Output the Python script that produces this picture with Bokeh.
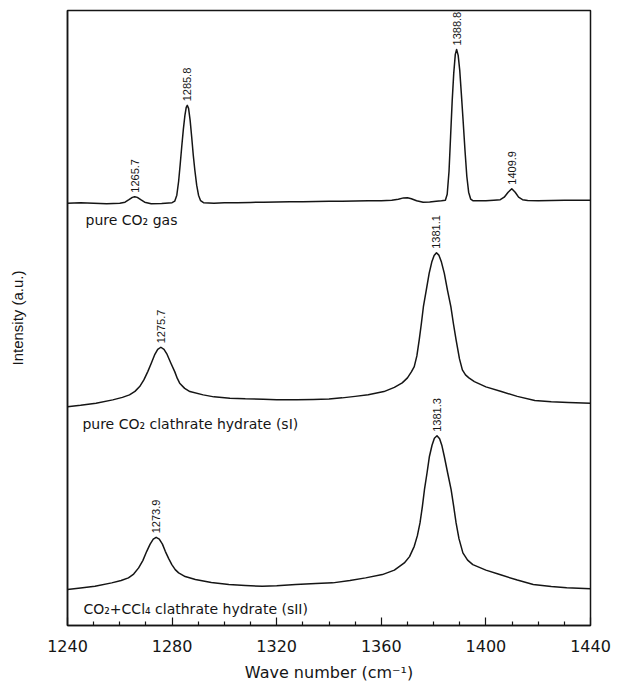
import math
from bokeh.plotting import figure
from bokeh.models import Range1d, FixedTicker, ColumnDataSource
from bokeh.core.properties import value
from bokeh.embed import file_html
from bokeh.resources import INLINE

# ---- data: (wave number cm^-1, intensity a.u.) ----
gas_pts = [
    (1240, 423), (1245, 423.5), (1250, 423), (1255, 422.5), (1260, 423), (1262, 424), (1263.5, 426.5),
    (1264.8, 428.8), (1265.7, 429.5), (1266.7, 428.8), (1268, 426.5), (1269.5, 424), (1272, 422.5),
    (1276, 422.8), (1280, 423.5),
    (1281.0, 425), (1281.8, 431), (1282.5, 445), (1283.1, 462), (1283.7, 480), (1284.3, 497),
    (1284.9, 511), (1285.4, 519), (1285.8, 521), (1286.3, 518), (1286.9, 506), (1287.5, 489),
    (1288.1, 471), (1288.7, 456), (1289.4, 441), (1290.1, 431), (1290.9, 425.5), (1292, 423.5),
    (1296, 423), (1300, 423.5), (1305, 423.5), (1310, 423.8), (1315, 424), (1320, 424.3), (1325, 424.5),
    (1330, 424.5), (1335, 424.8), (1340, 425), (1345, 425), (1350, 425.2), (1355, 425.5), (1360, 425.5),
    (1364, 426), (1366.5, 427), (1368.5, 428.3), (1370, 428.5), (1371.5, 427.5), (1373.5, 425.5),
    (1376, 424), (1378.5, 424.2), (1381, 425), (1383, 425.5),
    (1384.5, 426), (1385.2, 432), (1385.9, 455), (1386.5, 490), (1387.1, 525), (1387.7, 553),
    (1388.3, 572), (1388.8, 577), (1389.4, 571), (1390.0, 556), (1390.6, 533), (1391.3, 505),
    (1392.0, 476), (1392.7, 450), (1393.4, 434), (1394.2, 427), (1395, 425.5),
    (1397, 425.5), (1400, 425.5), (1403, 426), (1405.5, 426.5), (1407, 429), (1408.5, 434),
    (1409.9, 437.5), (1411.2, 434), (1412.5, 429), (1414, 426.5), (1416, 425.8), (1420, 425.5),
    (1425, 425.8), (1430, 426), (1435, 426), (1440, 426),
]

sI_pts = [
    (1240, 219), (1245, 220.5), (1250.9, 222.7), (1257.3, 226), (1261, 228.5), (1263.7, 231),
    (1265.8, 234.5), (1267.6, 239.3), (1269.2, 246), (1270.7, 254.3), (1272.0, 262.5), (1273.3, 271),
    (1274.5, 276.5), (1275.7, 278.7), (1276.9, 276.5), (1278.1, 271.5), (1279.5, 263), (1281.0, 254.3),
    (1282.0, 247.5), (1282.9, 242.7), (1284.8, 237.5), (1286.8, 234.3), (1291.9, 231), (1296, 229),
    (1302.1, 227.7), (1308, 227), (1314.9, 226.7), (1320, 226.2), (1327.7, 226), (1334, 226.3),
    (1340, 226.8), (1345, 228), (1350, 229.5), (1355, 231.2), (1361, 234.3), (1365, 238.5),
    (1368, 243), (1370, 248), (1371.5, 254), (1372.6, 259.3), (1373.6, 270), (1374.5, 286),
    (1375.3, 302), (1376.1, 319.3), (1377.2, 336), (1378.3, 352.7), (1379.3, 364), (1380.2, 370.5),
    (1381.1, 373.3), (1382.0, 371), (1383.0, 364), (1384.1, 352.7), (1385.3, 336), (1386.6, 319.3),
    (1387.6, 302), (1388.6, 286), (1389.9, 267), (1391.0, 256), (1392.2, 251), (1393.5, 248),
    (1395.6, 244.3), (1400, 239), (1405.9, 234.3), (1412, 229.5), (1418.7, 225.3), (1425, 224),
    (1431.5, 223.3), (1440, 222.7),
]

sII_pts = [
    (1240, 36), (1245, 37.5), (1250.5, 39.3), (1256.9, 42.7), (1260.5, 45), (1263.3, 47.7),
    (1265.3, 51.5), (1267.2, 57.7), (1268.8, 65), (1270.3, 74.3), (1271.6, 81.5), (1272.8, 86.5),
    (1273.9, 88.3), (1275.1, 86.5), (1276.3, 81.5), (1277.4, 74.3), (1278.7, 67), (1279.9, 61),
    (1281.2, 56), (1282.5, 52.7), (1285, 49), (1288.9, 46), (1295, 43), (1301.7, 41), (1308, 40),
    (1314.5, 39.3), (1320, 39.8), (1327.3, 41), (1335, 42), (1341.4, 42.7), (1348, 45), (1354, 47.7),
    (1360.4, 51), (1365, 55.5), (1368.8, 62.7), (1370.8, 69), (1372.6, 79.3), (1373.8, 90),
    (1374.8, 102.7), (1375.7, 119), (1376.5, 136), (1377.5, 153), (1378.4, 169.3), (1379.4, 180.5),
    (1380.3, 187.5), (1381.3, 190), (1382.3, 187), (1383.2, 180), (1384.1, 169.3), (1385.4, 152.5),
    (1386.7, 136), (1387.7, 119), (1388.6, 102.7), (1389.7, 87), (1391.2, 72.7), (1393, 65.5),
    (1395, 61), (1400, 55.5), (1405.3, 51), (1412, 45.5), (1418.1, 41), (1425, 39), (1430.9, 37.7),
    (1440, 36.7),
]

peak_wn = [1265.7, 1285.8, 1388.8, 1409.9, 1275.7, 1381.1, 1273.9, 1381.3]
peak_I = [429.5, 521, 577, 437.5, 278.7, 373.3, 88.3, 190]
peak_text = ["1265.7", "1285.8", "1388.8", "1409.9", "1275.7", "1381.1", "1273.9", "1381.3"]

sample_names = ["pure CO\u2082 gas", "pure CO\u2082 clathrate hydrate (sI)",
                "CO\u2082+CCl\u2084 clathrate hydrate (sII)"]
name_wn = [1246.9, 1245.7, 1246.1]
name_I = [406, 202, 17]

x_major = [1240, 1280, 1320, 1360, 1400, 1440]
x_minor = [1250, 1260, 1270, 1290, 1300, 1310, 1330, 1340, 1350, 1370, 1380, 1390, 1410, 1420, 1430]

x_label = "Wave number (cm\u207B\u00B9)"
y_label = "Intensity (a.u.)"

INK = "#151515"

p = figure(width=620, height=684, output_backend="svg", toolbar_location=None,
           x_range=Range1d(1240, 1440), y_range=Range1d(0, 616),
           min_border_left=67, min_border_right=30, min_border_top=10, min_border_bottom=58)
p.background_fill_color = "white"
p.border_fill_color = "white"
p.outline_line_color = INK
p.outline_line_width = 1.5
p.xgrid.visible = False
p.ygrid.visible = False

# x axis
p.xaxis.ticker = FixedTicker(ticks=x_major, minor_ticks=x_minor)
p.xaxis.major_tick_in = 8
p.xaxis.major_tick_out = 0
p.xaxis.minor_tick_in = 4
p.xaxis.minor_tick_out = 0
p.xaxis.major_tick_line_color = INK
p.xaxis.minor_tick_line_color = INK
p.xaxis.major_tick_line_width = 1.2
p.xaxis.minor_tick_line_width = 1.2
p.xaxis.axis_line_color = INK
p.xaxis.axis_line_width = 1.5
p.xaxis.major_label_text_font = "DejaVu Sans"
p.xaxis.major_label_text_font_size = "16px"
p.xaxis.major_label_text_color = INK
p.xaxis.major_label_standoff = 14
p.xaxis.axis_label = x_label
p.xaxis.axis_label_text_font = "DejaVu Sans"
p.xaxis.axis_label_text_font_size = "16px"
p.xaxis.axis_label_text_font_style = "normal"
p.xaxis.axis_label_text_color = INK
p.xaxis.axis_label_standoff = 8

# y axis (no ticks)
p.yaxis.ticker = FixedTicker(ticks=[])
p.yaxis.axis_line_color = INK
p.yaxis.axis_line_width = 1.5
p.yaxis.axis_label = y_label
p.yaxis.axis_label_text_font = "Liberation Sans"
p.yaxis.axis_label_text_font_size = "15px"
p.yaxis.axis_label_text_font_style = "normal"
p.yaxis.axis_label_text_color = INK
p.yaxis.axis_label_standoff = 42

for pts in (gas_pts, sI_pts, sII_pts):
    xs = [a for a, b in pts]
    ys = [b for a, b in pts]
    p.line(xs, ys, line_color=INK, line_width=1.5, line_join="round")

peak_src = ColumnDataSource(dict(x=peak_wn, y=peak_I, t=peak_text))
p.text(x="x", y="y", text="t", source=peak_src, angle=math.pi / 2,
       text_align="left", text_baseline="middle", y_offset=-4,
       text_font=value("Liberation Sans"), text_font_size="11px", text_color=INK)

name_src = ColumnDataSource(dict(x=name_wn, y=name_I, t=sample_names))
p.text(x="x", y="y", text="t", source=name_src,
       text_align="left", text_baseline="middle",
       text_font=value("DejaVu Sans"), text_font_size="14px", text_color=INK)

open("out.html", "w").write(file_html(p, INLINE))
